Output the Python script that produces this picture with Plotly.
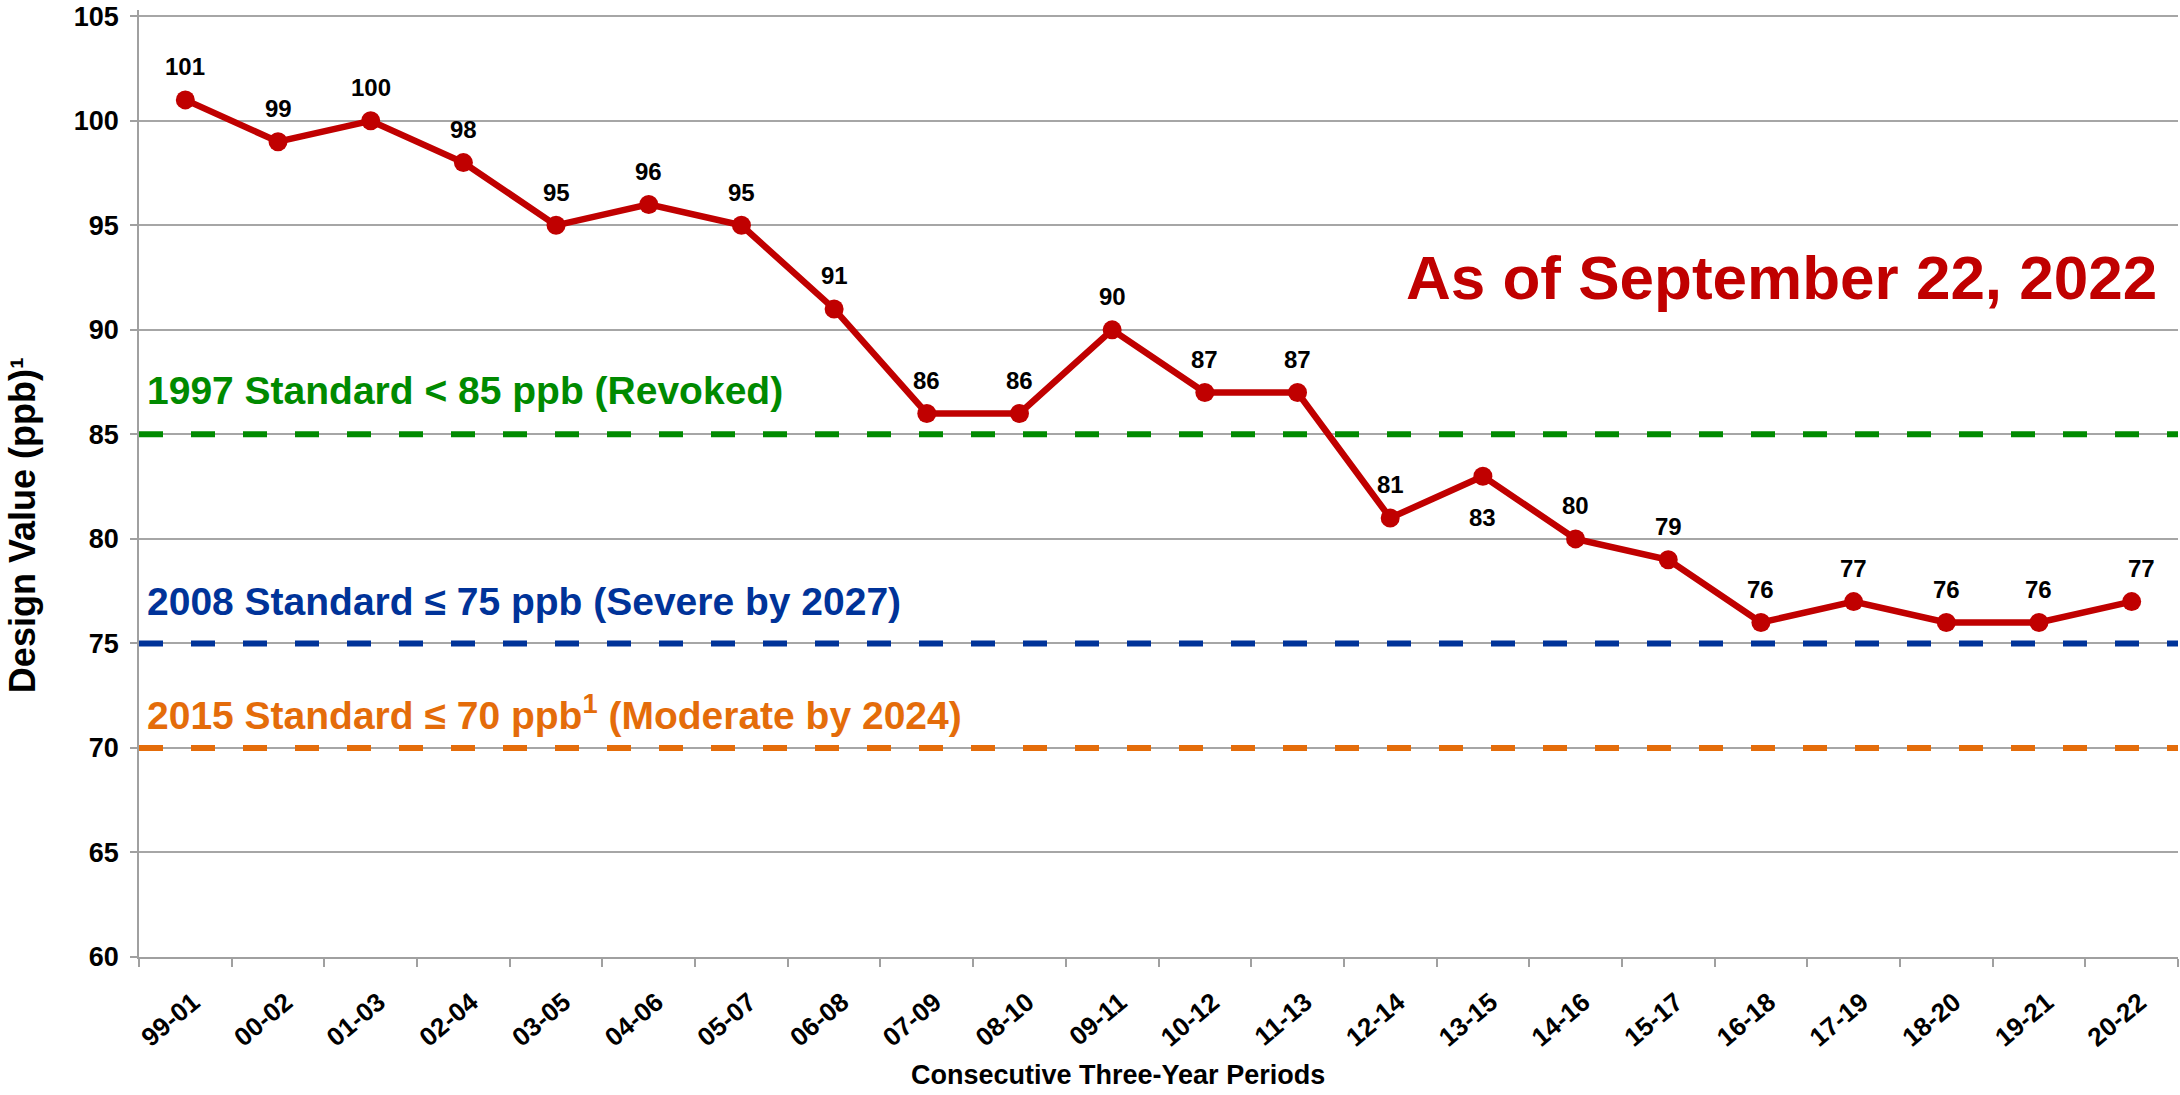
import plotly.graph_objects as go

periods = ["99-01", "00-02", "01-03", "02-04", "03-05", "04-06", "05-07", "06-08",
           "07-09", "08-10", "09-11", "10-12", "11-13", "12-14", "13-15", "14-16",
           "15-17", "16-18", "17-19", "18-20", "19-21", "20-22"]
design_values = [101, 99, 100, 98, 95, 96, 95, 91, 86, 86, 90, 87, 87, 81, 83, 80,
                 79, 76, 77, 76, 76, 77]

standards = [85, 75, 70]
standard_labels = [
    "1997 Standard < 85 ppb (Revoked)",
    "2008 Standard \u2264 75 ppb (Severe by 2027)",
    "2015 Standard \u2264 70 ppb<sup>1</sup> (Moderate by 2024)",
]
standard_colors = ["#008A00", "#003399", "#E46C0A"]
y_ticks = [60, 65, 70, 75, 80, 85, 90, 95, 100, 105]

FONT = "Liberation Sans, Arial, sans-serif"
RED = "#C00000"

fig = go.Figure()
fig.add_trace(go.Scatter(
    x=periods, y=design_values, mode="lines+markers",
    line=dict(color=RED, width=6.5),
    marker=dict(color=RED, size=19),
    showlegend=False, hoverinfo="x+y",
))

# standard reference lines
for val, col in zip(standards, standard_colors):
    fig.add_shape(type="line", xref="paper", x0=0, x1=1, yref="y", y0=val, y1=val,
                  line=dict(color=col, width=6, dash="24px,28px"), layer="above")

# standard labels
label_offset = [2.1, 2.0, 1.7]
for val, txt, col, off in zip(standards, standard_labels, standard_colors, label_offset):
    fig.add_annotation(xref="paper", x=0.003, xanchor="left", yref="y", y=val + off,
                       yanchor="middle", text=txt, showarrow=False,
                       font=dict(family=FONT, size=39, color=col, weight="bold"))

# data labels
below = {"13-15"}
for i, (p, v) in enumerate(zip(periods, design_values)):
    ys = -41 if p in below else 33
    xs = 10 if i == len(periods) - 1 else 0
    fig.add_annotation(x=p, y=v, text=str(v), showarrow=False, yshift=ys, xshift=xs,
                       yanchor="middle",
                       font=dict(family=FONT, size=24, color="black", weight="bold"))

fig.add_annotation(xref="paper", x=0.9907, xanchor="right", yref="y", y=92.5,
                   yanchor="middle", text="As of September 22, 2022", showarrow=False,
                   font=dict(family=FONT, size=62, color=RED, weight="bold"))

fig.add_annotation(xref="paper", x=0.48, yref="paper", y=-0.125, xanchor="center",
                   yanchor="middle", text="Consecutive Three-Year Periods", showarrow=False,
                   font=dict(family=FONT, size=27, color="black", weight="bold"))
fig.add_annotation(xref="paper", x=-0.0574, yref="paper", y=0.456, xanchor="center",
                   yanchor="middle", text="Design Value (ppb)\u00b9", showarrow=False,
                   textangle=-90,
                   font=dict(family=FONT, size=36, color="black", weight="bold"))

fig.update_layout(
    width=2180, height=1095,
    margin=dict(l=139, r=2, t=3, b=138),
    paper_bgcolor="white", plot_bgcolor="white",
    font=dict(family=FONT, color="black"),
    showlegend=False,
)
fig.update_xaxes(
    type="category", range=[-0.5, len(periods) - 0.5],
    tickson="boundaries", ticks="outside", ticklen=8, tickcolor="#A0A0A0", tickwidth=1.5,
    showline=True, linecolor="#A0A0A0", linewidth=1.5, showgrid=False,
    tickangle=-40, tickfont=dict(family=FONT, size=26, color="black", weight="bold"),
    ticklabelstandoff=18, ticklabelshift=8,
)
fig.update_yaxes(
    range=[60, 105.3], tickvals=y_ticks, ticks="outside", ticklen=7, tickcolor="#A0A0A0",
    tickwidth=1.5, showline=True, linecolor="#A0A0A0", linewidth=1.5,
    showgrid=True, gridcolor="#A6A6A6", gridwidth=1.5, zeroline=False,
    tickfont=dict(family=FONT, size=27, color="black", weight="bold"),
    ticklabelstandoff=6, ticklabeloverflow="allow",
)

fig.write_html("out.html", config={"displayModeBar": False},
               post_script="document.body.style.margin='0';document.body.style.overflow='hidden';")
